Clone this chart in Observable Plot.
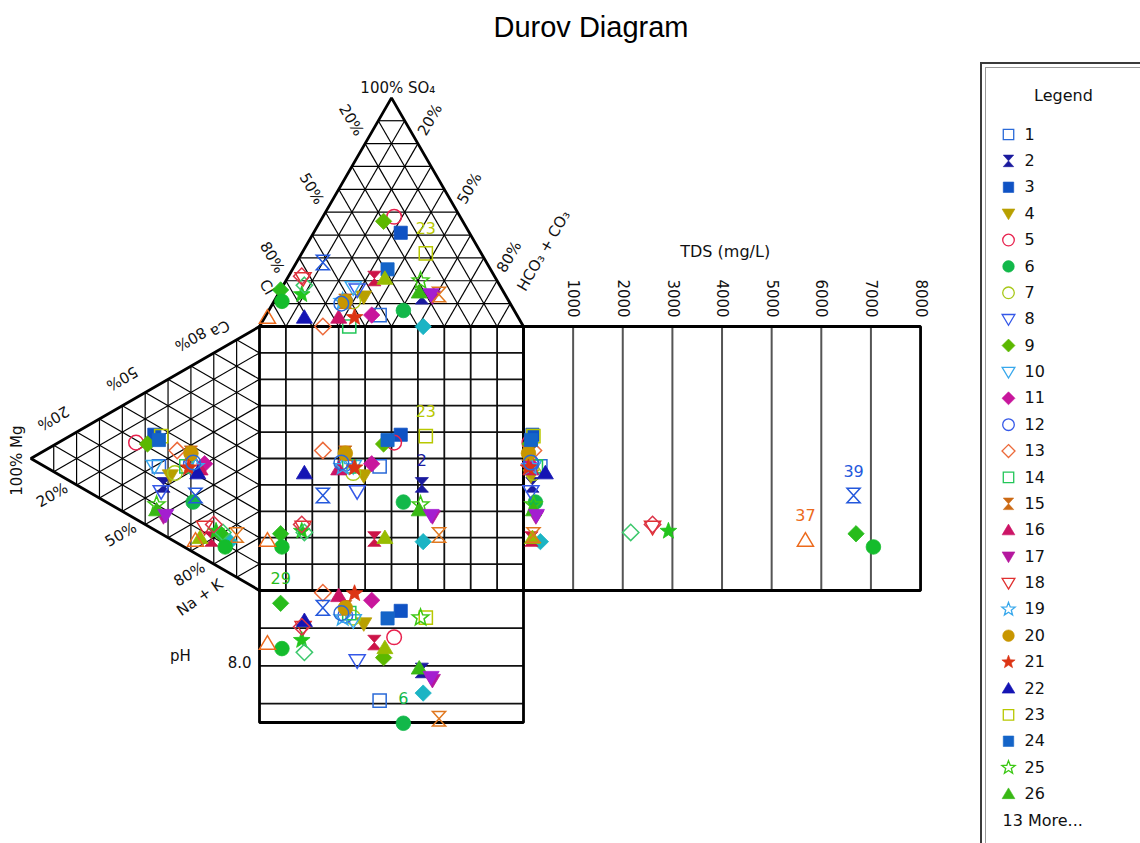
<!DOCTYPE html>
<html>
<head>
<meta charset="utf-8">
<script src="https://cdn.jsdelivr.net/npm/d3@7"></script>
<script src="https://cdn.jsdelivr.net/npm/@observablehq/plot@0.6"></script>
<style>
  html, body { margin: 0; padding: 0; background: #fff; }
  #wrap { position: relative; width: 1140px; height: 843px; overflow: hidden; background: #fff; font-family: "DejaVu Sans", Verdana, sans-serif; }
  #title { position: absolute; top: 10px; left: 0; width: 1182px; text-align: center; font-family: Arial, "Liberation Sans", sans-serif; font-size: 29px; color: #000; line-height: 34px; }
  #chart { position: absolute; left: 0; top: 50px; }
  #legendBox { position: absolute; left: 980px; top: 62px; width: 300px; height: 900px; border: 2px solid #3a3a3a; box-sizing: border-box; background: #fff; }
  #legendInner { position: absolute; left: 3px; top: 3px; width: 300px; height: 900px; border: 1.5px solid #9a9a9a; }
  #legend { position: absolute; left: 975px; top: 50px; }
</style>
</head>
<body>
<div id="wrap">
  <div id="title">Durov Diagram</div>
  <div id="chart"></div>
  <div id="legendBox"><div id="legendInner"></div></div>
  <div id="legend"></div>
</div>
<script>
// ---------------- DATA ----------------
const sampleIds = d3.range(1, 40);
const shapes = ["square","hourglass","square","down","circle","circle","circle","down","diamond","down",
  "diamond","circle","diamond","square","hourglass","up","down","down","star","circle",
  "star","up","square","square","star","up","diamond","hourglass","diamond","up",
  "hourglass","star","diamond","diamond","circle","circle","up","down","hourglass"];
const colors = ["#2a6ad8","#1a1a9e","#0f52c4","#b8a000","#e8224e","#12b84a","#a8c818","#3558e8","#5cb800","#38a8ec",
  "#c8169c","#3558e8","#ec6a3a","#22c658","#cc6a14","#cc1466","#b5179e","#e03030","#38a8ec","#c89600",
  "#dc3414","#1414b4","#b8c800","#1464c8","#3cc814","#38b814","#1cb4c4","#cc1448","#28bc1c","#98bc00",
  "#e07820","#22c41c","#3cc86c","#dc3448","#14bc2c","#2a6ad8","#ec6a1c","#a41ed0","#2458dc"];
const filled = [0,1,1,1,0,1,0,0,1,0, 1,0,0,0,1,1,1,0,0,1, 1,1,0,1,0,1,1,1,1,1, 0,1,0,0,1,0,0,1,0];
// anions (% meq)
const HCO3 = [43,55,33,33,27,51,30,29,24,27, 40,27,24,34,27,28,59,6,26,27, 34,15,47,36,51,53,62,33,0,37, 61,9,8,5,3,26,1,58,10];
const SO4  = [5,13,41,13,48,7,11,16,46,17, 5,11,0,0,11,4,13,21,11,11, 4,4,32,25,20,15,0,21,16,21, 14,14,18,22,11,10,4,14,28];
const Cl   = [52,32,26,54,25,42,59,55,30,56, 55,62,76,66,62,68,28,73,63,62, 62,81,21,39,29,32,38,46,84,42, 25,77,74,73,86,64,95,28,62];
// cations (% meq)
const Ca   = [25,19,36,24,29,19,26,16,31,24, 36,33,35,31,37,33,7,12,33,37, 31,31,37,35,10,8,12,9,13,7, 16,13,14,15,9,34,5,8,22];
const Mg   = [44,42,46,39,54,29,37,43,49,46, 24,30,36,32,30,26,42,24,28,30, 31,27,43,44,45,45,13,21,17,26, 10,19,16,20,15,29,28,41,28];
const NaK  = [31,39,18,37,17,52,37,41,20,30, 40,37,29,37,33,41,51,64,39,33, 38,42,20,21,45,47,75,70,70,67, 74,68,70,65,76,37,67,51,50];
const pH   = [7.54,7.94,8.73,8.56,8.38,7.24,8.64,8.07,8.11,8.60, 8.87,8.67,8.97,8.70,8.77,8.93,7.81,8.51,8.64,8.77,
  8.96,8.60,8.64,8.63,8.64,7.97,7.64,8.31,8.83,8.24, 7.30,8.34,8.18,8.52,8.23,8.70,8.30,7.85,8.77];
const TDS  = [340,180,180,150,120,240,200,150,130,200, 120,160,200,250,100,150,250,2600,150,100,
  100,440,200,150,200,200,340,160,6700,180, 200,2920,2160,2600,7050,150,5680,260,6650];
// labelled points: [sample id, panel]
const pointLabels = [[23,"top"],[23,"square"],[2,"square"],[6,"ph"],[29,"ph"],[37,"tds"],[39,"tds"]];
// axis tick labels
const pctTicks = [20, 50, 80];
const gridLevels = [10,20,30,40,50,60,70,80,90];
const tdsTicks = [1000,2000,3000,4000,5000,6000,7000,8000];
const tdsGrid = [1000,2000,3000,4000,5000,6000,7000];
const phLines = [8.5, 8.0, 7.5];
const phTickLabels = [8.0];
const legendCount = 26;

// ---------------- GEOMETRY ----------------
const H = Math.sqrt(3) / 2;
const TDS_MAX = 8000, TDS_W = 1.504;
const PH_TOP = 9.0, PH_BOTTOM = 7.25, PH_H = 0.5;
const ax = (h, s) => (h + s / 2) / 100;       // anion triangle x
const ay = (s) => 1 + s / 100 * H;            // anion triangle y
const cx = (mg) => -mg / 100 * H;             // cation triangle x
const cy = (ca, mg) => (ca + mg / 2) / 100;   // cation triangle y
const tx = (t) => 1 + t / TDS_MAX * TDS_W;
const py = (p) => -(PH_TOP - p) / (PH_TOP - PH_BOTTOM) * PH_H;

const SO4V = [0.5, 1 + H], ClV = [0, 1], HCO3V = [1, 1];
const MgV = [-H, 0.5], CaV = [0, 1], NaKV = [0, 0];

// ---------------- SYMBOLS ----------------
const R = (s) => Math.sqrt(s / Math.PI);
const SYM = {
  circle: {draw(c, s) { const r = R(s); c.moveTo(r, 0); c.arc(0, 0, r, 0, 2 * Math.PI); }},
  square: {draw(c, s) { const r = R(s) * 0.9; c.rect(-r, -r, 2 * r, 2 * r); }},
  diamond: {draw(c, s) { const r = R(s) * 1.12; c.moveTo(0, -r); c.lineTo(r, 0); c.lineTo(0, r); c.lineTo(-r, 0); c.closePath(); }},
  up: {draw(c, s) { const r = R(s); c.moveTo(0, -r * 1.05); c.lineTo(r * 1.1, r * 0.8); c.lineTo(-r * 1.1, r * 0.8); c.closePath(); }},
  down: {draw(c, s) { const r = R(s); c.moveTo(0, r * 1.05); c.lineTo(r * 1.1, -r * 0.8); c.lineTo(-r * 1.1, -r * 0.8); c.closePath(); }},
  hourglass: {draw(c, s) { const r = R(s); const w = r * 0.9, h = r; c.moveTo(-w, -h); c.lineTo(w, -h); c.lineTo(-w, h); c.lineTo(w, h); c.closePath(); }},
  star: {draw(c, s) { const r = R(s) * 1.2, ri = r * 0.42;
    for (let k = 0; k < 10; k++) { const a = -Math.PI / 2 + k * Math.PI / 5; const rr = k % 2 ? ri : r;
      const X = rr * Math.cos(a), Y = rr * Math.sin(a); if (k) c.lineTo(X, Y); else c.moveTo(X, Y); }
    c.closePath(); }}
};

const samples = sampleIds.map((id, i) => ({
  id, symbol: SYM[shapes[i]], color: colors[i], filled: !!filled[i],
  hco3: HCO3[i], so4: SO4[i], cl: Cl[i], ca: Ca[i], mg: Mg[i], nak: NaK[i], ph: pH[i], tds: TDS[i]
}));
const byId = new Map(samples.map(d => [d.id, d]));

// ---------------- GRID SEGMENTS ----------------
const seg = (p, q) => ({x1: p[0], y1: p[1], x2: q[0], y2: q[1]});
const topGrid = gridLevels.flatMap(v => [
  seg([ax(0, v), ay(v)], [ax(100 - v, v), ay(v)]),                  // const SO4
  seg([ax(0, 100 - v), ay(100 - v)], [ax(100 - v, 0), ay(0)]),      // const Cl
  seg([ax(v, 100 - v), ay(100 - v)], [ax(v, 0), ay(0)])             // const HCO3
]);
const leftGrid = gridLevels.flatMap(v => [
  seg([cx(v), cy(100 - v, v)], [cx(v), cy(0, v)]),                  // const Mg
  seg([cx(100 - v), cy(v, 100 - v)], [cx(0), cy(v, 0)]),            // const Ca
  seg([cx(0), cy(100 - v, 0)], [cx(100 - v), cy(0, 100 - v)])       // const Na+K
]);
const squareGrid = gridLevels.flatMap(v => [
  seg([v / 100, 0], [v / 100, 1]),
  seg([0, v / 100], [1, v / 100])
]);
const tdsGridSegs = tdsGrid.map(t => seg([tx(t), 0], [tx(t), 1]));
const phGridSegs = phLines.map(p => seg([0, py(p)], [1, py(p)]));

const poly = (pts) => pts.map(([x, y]) => ({x, y}));
const outlines = [
  poly([ClV, SO4V, HCO3V]),
  poly([CaV, MgV, NaKV]),
  poly([[0, 0], [0, 1], [1, 1], [1, 0], [0, 0]]),
  poly([[1, 0], [1, 1], [tx(TDS_MAX), 1], [tx(TDS_MAX), 0], [1, 0]]),
  poly([[0, 0], [0, py(PH_BOTTOM)], [1, py(PH_BOTTOM)], [1, 0]])
];

// ---------------- EDGE LABELS ----------------
const edge = (P, Q, f, N, n) => ({x: P[0] + (Q[0] - P[0]) * f + N[0] * n, y: P[1] + (Q[1] - P[1]) * f + N[1] * n});
const NL = [-H, 0.5], NR = [H, 0.5], NU = [-0.5, H], ND = [-0.5, -H];
const edgeLabels = [
  ...pctTicks.map(v => ({...edge(SO4V, ClV, v / 100 - 0.05, NL, 0.09), text: v + "%", rotate: 60})),
  ...pctTicks.map(v => ({...edge(SO4V, HCO3V, v / 100 - 0.055, NR, 0.085), text: v + "%", rotate: -60})),
  ...pctTicks.map(v => ({...edge(MgV, CaV, v / 100 - 0.05, NU, 0.09), text: v + "%", rotate: 150})),
  ...pctTicks.map(v => ({...edge(MgV, NaKV, v / 100 - 0.06, ND, 0.08), text: v + "%", rotate: -30})),
  {...edge(SO4V, ClV, 0.857, NL, 0.05), text: "Cl", rotate: 60},
  {...edge(SO4V, HCO3V, 0.79, NR, 0.21), text: "HCO\u2083 + CO\u2083", rotate: -60},
  {...edge(MgV, CaV, 0.866, NU, 0.068), text: "Ca", rotate: 150},
  {...edge(MgV, NaKV, 0.818, ND, 0.136), text: "Na + K", rotate: -35},
  {x: MgV[0] - 0.05, y: MgV[1] - 0.008, text: "100% Mg", rotate: -90},
  {x: SO4V[0] + 0.024, y: SO4V[1] + 0.036, text: "100% SO\u2084", rotate: 0}
];

// ---------------- POSITION ACCESSORS ----------------
const pos = {
  top:    d => [ax(d.hco3, d.so4), ay(d.so4)],
  left:   d => [cx(d.mg), cy(d.ca, d.mg)],
  square: d => [ax(d.hco3, d.so4), cy(d.ca, d.mg)],
  ph:     d => [ax(d.hco3, d.so4), py(d.ph)],
  tds:    d => [tx(d.tds), cy(d.ca, d.mg)]
};
const dotMark = (panel) => Plot.dot(samples, {
  x: d => pos[panel](d)[0], y: d => pos[panel](d)[1],
  symbol: d => d.symbol, r: 7.3,
  fill: d => d.filled ? d.color : "none", stroke: d => d.color,
  strokeWidth: d => d.filled ? 0.8 : 1.5
});
const labelData = pointLabels.map(([id, panel]) => {
  const d = byId.get(id); const [x, y] = pos[panel](d);
  return {x, y, text: String(id), color: d.color};
});

const FONT = "'DejaVu Sans', Verdana, sans-serif";

// ---------------- MAIN PLOT ----------------
const chart = Plot.plot({
  width: 975, height: 793,
  x: {domain: [0, 1], range: [259, 523], axis: null},
  y: {domain: [0, 1], range: [540, 276], axis: null},
  style: {background: "transparent", overflow: "visible", fontFamily: FONT},
  marks: [
    Plot.link(topGrid, {x1: "x1", y1: "y1", x2: "x2", y2: "y2", stroke: "#000", strokeWidth: 1.2}),
    Plot.link(leftGrid, {x1: "x1", y1: "y1", x2: "x2", y2: "y2", stroke: "#000", strokeWidth: 1.2}),
    Plot.link(squareGrid, {x1: "x1", y1: "y1", x2: "x2", y2: "y2", stroke: "#111", strokeWidth: 1.8}),
    Plot.link(tdsGridSegs, {x1: "x1", y1: "y1", x2: "x2", y2: "y2", stroke: "#555", strokeWidth: 2}),
    Plot.link(phGridSegs, {x1: "x1", y1: "y1", x2: "x2", y2: "y2", stroke: "#111", strokeWidth: 1.8}),
    ...outlines.map(o => Plot.line(o, {x: "x", y: "y", stroke: "#000", strokeWidth: 2.8, strokeLinejoin: "miter", strokeLinecap: "square"})),
    Plot.text(edgeLabels, {x: "x", y: "y", text: "text", rotate: "rotate", fontSize: 15, fill: "#111"}),
    Plot.text(tdsTicks, {x: t => tx(t), y: () => 1.106, text: t => String(t), rotate: 90, fontSize: 15, fill: "#111"}),
    Plot.text(["TDS (mg/L)"], {x: () => tx(TDS_MAX / 2) + 0.012, y: () => 1.284, text: d => d, fontSize: 16, fill: "#111"}),
    Plot.text(phTickLabels, {x: () => -0.03, y: p => py(p), dy: -3, text: p => p.toFixed(1), textAnchor: "end", fontSize: 15, fill: "#111"}),
    Plot.text(["pH"], {x: () => -0.30, y: () => py((PH_TOP + PH_BOTTOM) / 2), text: d => d, fontSize: 15, fill: "#111"}),
    dotMark("top"), dotMark("left"), dotMark("square"), dotMark("ph"), dotMark("tds"),
    Plot.text(labelData, {x: "x", y: "y", text: "text", fill: "color", dy: -24, fontSize: 16})
  ]
});
document.getElementById("chart").append(chart);

// ---------------- LEGEND ----------------
const legendRows = samples.slice(0, legendCount);
const legend = Plot.plot({
  width: 165, height: 793,
  x: {domain: [0, 165], range: [0, 165], axis: null},
  y: {domain: [1, 26], range: [84, 743.5], axis: null},
  style: {background: "transparent", overflow: "visible", fontFamily: FONT},
  marks: [
    Plot.text(["Legend"], {x: () => 88, y: () => -0.48, text: d => d, fontSize: 16, fill: "#111"}),
    Plot.dot(legendRows, {x: () => 33, y: "id", symbol: d => d.symbol, r: 5.8,
      fill: d => d.filled ? d.color : "none", stroke: d => d.color, strokeWidth: d => d.filled ? 0.6 : 1.3}),
    Plot.text(legendRows, {x: () => 49, y: "id", text: d => String(d.id), textAnchor: "start", fontSize: 16, fill: "#111"}),
    Plot.text([`${samples.length - legendCount} More...`], {x: () => 27, y: () => legendCount + 1, text: d => d, textAnchor: "start", fontSize: 16, fill: "#111"})
  ]
});
document.getElementById("legend").append(legend);
</script>
</body>
</html>
